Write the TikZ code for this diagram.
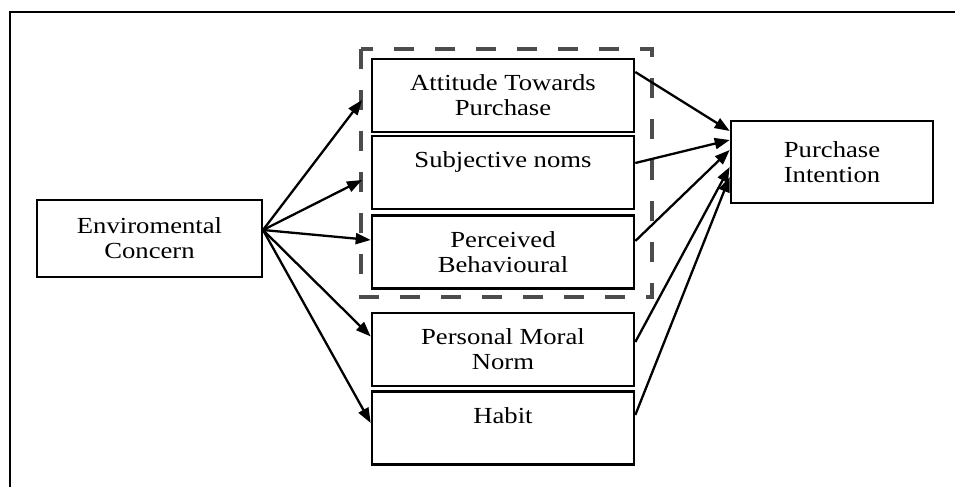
\documentclass[tikz,border=0pt]{standalone}
\usepackage{fontspec}
\setmainfont[FakeStretch=1.16]{Liberation Serif}
\usetikzlibrary{arrows.meta}

\tikzset{
  box/.style={draw,line width=2.6pt,minimum width=262pt,minimum height=73pt,align=center,inner sep=0pt,
    font=\fontsize{23}{25}\selectfont},
  arr/.style={line width=2.3pt,-{Triangle[length=15pt,width=11pt]}},
}

\begin{document}
\begin{tikzpicture}[x=1pt,y=-1pt]
\useasboundingbox (0,0) rectangle (955,487);
\draw[line width=2.6pt] (10,487) -- (10,12) -- (955,12); %outer frame

\draw[gray!60!black,line width=3.6pt,dash pattern=on 20pt off 21pt] (361,49) rectangle (652,297); %dashed group

\node[box,minimum width=225pt,minimum height=77pt] (env) at (149.5,238.5) {Enviromental\\Concern};
\node[box] (att)   at (503,95.5)  {Attitude Towards\\Purchase};
\node[box] (subj)  at (503,172.5) {Subjective noms\\\mbox{}};
\node[box] (perc)  at (503,252)   {Perceived\\Behavioural};
\node[box] (pmn)   at (503,349.5) {Personal Moral\\Norm};
\node[box] (habit) at (503,428)   {Habit\\\mbox{}};
\node[box,minimum width=202pt,minimum height=82pt] (pi) at (832,162) {Purchase\\Intention};

\coordinate (src) at (263,230);
\coordinate (gatt) at (362,100);
\coordinate (gsubj) at (362,180);

\draw[arr] (src) -- (gatt);  %env to group
\draw[arr] (src) -- (gsubj);
\draw[arr] (src) -- ([yshift=12pt]perc.west);
\draw[arr] (src) -- ([yshift=13pt]pmn.west);
\draw[arr] (src) -- ([yshift=5pt]habit.west);

\draw[arr] ([yshift=23.5pt]att.east)  -- ([yshift=31pt]pi.west);  %to intention
\draw[arr] ([yshift=9.5pt]subj.east)  -- ([yshift=22pt]pi.west);
\draw[arr] ([yshift=11pt]perc.east)   -- ([yshift=12pt]pi.west);
\draw[arr] ([yshift=7.5pt]pmn.east)   -- ([yshift=-5pt]pi.west);
\draw[arr] ([yshift=13pt]habit.east)  -- ([yshift=-15pt]pi.west);

\end{tikzpicture}
\end{document}
